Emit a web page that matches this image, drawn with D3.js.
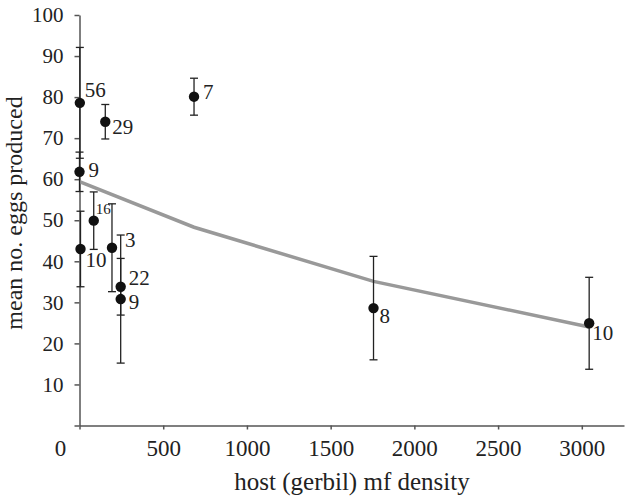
<!DOCTYPE html>
<html>
<head>
<meta charset="utf-8">
<script src="https://cdn.jsdelivr.net/npm/d3@7"></script>
<style>
  html, body { margin: 0; padding: 0; background: #fff; }
  svg { display: block; }
</style>
</head>
<body>
<div id="chart"></div>
<script>
// data
const density = [2, 154, 684, 0, 85, 194, 6, 246, 246, 1756, 3044];
const meanEggs = [78.6, 74.0, 80.1, 61.8, 49.9, 43.3, 43.0, 33.8, 30.8, 28.6, 24.9];
const errEggs = [13.5, 4.2, 4.5, 4.8, 7.0, 10.7, 9.2, 6.9, 15.6, 12.6, 11.2];
const sampleN = ["56", "29", "7", "9", "16", "3", "10", "22", "9", "8", "10"];

// fitted curve
const fitDensity = [0, 684, 1756, 3044];
const fitEggs = [59.4, 48.3, 35.1, 24.0];

const xTicks = [0, 500, 1000, 1500, 2000, 2500, 3000];
const yTicks = [0, 10, 20, 30, 40, 50, 60, 70, 80, 90, 100];

// where each n label sits relative to its point (px)
const labelOffsets = [[5, -6], [7, 12], [9, 2], [9, 5], [2, -7], [13, -1], [5, 18], [8, -2], [8, 10], [6, 15], [3, 17]];

var FONT = "'Liberation Serif'";
var width = 625, height = 502;
var margin = {top: 15, right: 1, bottom: 76.5, left: 79.5};

var svg = d3.select("#chart")
  .append("svg")
  .attr("width", width)
  .attr("height", height);

var x = d3.scaleLinear()
  .domain([0, 3252])
  .range([margin.left, width - margin.right]);

var y = d3.scaleLinear()
  .domain([0, 100])
  .range([height - margin.bottom, margin.top]);

var axisColor = "#555";

// x axis
var gx = svg.append("g")
  .attr("transform", "translate(0," + y(0) + ")")
  .call(d3.axisBottom(x).tickValues(xTicks).tickSizeInner(4).tickSizeOuter(0).tickPadding(10).tickFormat(d3.format("d")));

gx.attr("font-family", null);
gx.select(".domain").attr("stroke", axisColor).attr("stroke-width", 1.5);
gx.selectAll(".tick line").attr("stroke", axisColor).attr("stroke-width", 1.5);
gx.selectAll(".tick text")
  .attr("fill", "#222")
  .style("font-size", "23px")
  .style("font-family", FONT)
  .attr("dx", function(d) { return d === 0 ? -19.5 : 0; });

// y axis
var gy = svg.append("g")
  .attr("transform", "translate(" + x(0) + ",0)")
  .call(d3.axisLeft(y).tickValues(yTicks).tickSizeInner(5).tickSizeOuter(0).tickPadding(11)
    .tickFormat(function(d) { return d === 0 ? "" : d; }));

gy.attr("font-family", null);
gy.select(".domain").attr("stroke", axisColor).attr("stroke-width", 1.5);
gy.selectAll(".tick line").attr("stroke", axisColor).attr("stroke-width", 1.5);
gy.selectAll(".tick text")
  .attr("fill", "#222")
  .style("font-size", "21px")
  .style("font-family", FONT);

// axis titles
svg.append("text")
  .attr("x", 352)
  .attr("y", 490)
  .attr("text-anchor", "middle")
  .attr("fill", "#222")
  .style("font-family", FONT)
  .style("font-size", "25px")
  .text("host (gerbil) mf density");

svg.append("text")
  .attr("transform", "translate(22,213) rotate(-90)")
  .attr("text-anchor", "middle")
  .attr("fill", "#222")
  .style("font-family", FONT)
  .style("font-size", "24px")
  .text("mean no. eggs produced");

// fitted line
var fit = fitDensity.map(function(d, i) { return {x: d, y: fitEggs[i]}; });
svg.append("path")
  .datum(fit)
  .attr("fill", "none")
  .attr("stroke", "#999")
  .attr("stroke-width", 3.5)
  .attr("d", d3.line()
    .x(function(d) { return x(d.x); })
    .y(function(d) { return y(d.y); })
  );

var pts = density.map(function(d, i) {
  return {x: d, y: meanEggs[i], e: errEggs[i], n: sampleN[i], off: labelOffsets[i]};
});

// error bars
var eb = svg.append("g").attr("stroke", "#222").attr("stroke-width", 1.3);
var capW = 4;
pts.forEach(function(d) {
  var cx = x(d.x);
  eb.append("line").attr("x1", cx).attr("x2", cx).attr("y1", y(d.y + d.e)).attr("y2", y(d.y - d.e));
  eb.append("line").attr("x1", cx - capW).attr("x2", cx + capW).attr("y1", y(d.y + d.e)).attr("y2", y(d.y + d.e));
  eb.append("line").attr("x1", cx - capW).attr("x2", cx + capW).attr("y1", y(d.y - d.e)).attr("y2", y(d.y - d.e));
});

// points
svg.append("g")
  .selectAll("circle")
  .data(pts)
  .join("circle")
  .attr("cx", function(d) { return x(d.x); })
  .attr("cy", function(d) { return y(d.y); })
  .attr("r", 5.2)
  .attr("fill", "#111");

// n labels
svg.append("g")
  .selectAll("text")
  .data(pts)
  .join("text")
  .attr("x", function(d) { return x(d.x) + d.off[0]; })
  .attr("y", function(d) { return y(d.y) + d.off[1]; })
  .attr("fill", "#222")
  .style("font-family", FONT)
  .style("font-size", function(d) { return d.n === "16" ? "15px" : "21px"; })
  .text(function(d) { return d.n; });
</script>
</body>
</html>
